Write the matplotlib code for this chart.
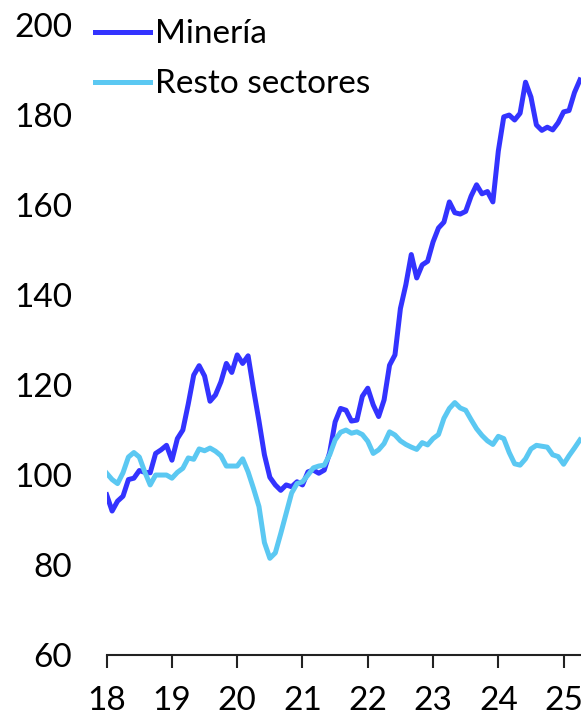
import matplotlib.pyplot as plt

# monthly index values, Jan 2018 .. Apr 2025
mineria = [
    95.6, 92.0, 94.2, 95.3, 99.0, 99.3, 101.0, 100.6, 100.5, 104.8, 105.6, 106.6,
    103.3, 108.1, 110.0, 115.8, 122.2, 124.3, 122.0, 116.4, 117.8, 120.7, 124.8, 122.8,
    126.7, 124.8, 126.5, 119.0, 112.0, 104.5, 99.5, 97.8, 96.6, 97.8, 97.4, 98.5,
    97.8, 100.7, 101.1, 100.4, 101.1, 105.0, 111.8, 114.8, 114.4, 112.0, 112.2, 117.5,
    119.3, 115.6, 113.0, 116.7, 124.4, 126.7, 137.0, 142.3, 149.0, 143.8, 146.7, 147.5,
    151.8, 154.9, 156.2, 160.7, 158.3, 158.0, 158.6, 162.0, 164.5, 162.5, 163.0, 160.7,
    172.0, 179.6, 180.0, 178.9, 180.4, 187.3, 184.0, 177.8, 176.6, 177.3, 176.7, 178.3,
    180.7, 181.0, 185.0, 187.8,
]
resto = [
    100.4, 99.0, 98.1, 100.5, 104.0, 105.0, 104.0, 100.7, 97.8, 100.0, 100.0, 100.0,
    99.3, 100.6, 101.5, 103.8, 103.5, 105.8, 105.4, 106.0, 105.3, 104.3, 102.0, 102.0,
    102.0, 103.6, 100.7, 97.0, 93.0, 85.0, 81.5, 82.7, 87.0, 91.5, 96.0, 98.1,
    98.5, 100.0, 101.6, 102.0, 102.2, 104.5, 107.8, 109.5, 110.0, 109.3, 109.6, 109.0,
    107.5, 104.8, 105.6, 107.0, 109.6, 108.9, 107.6, 106.8, 106.2, 105.7, 107.2, 106.7,
    108.1, 109.0, 112.6, 114.8, 116.1, 114.9, 114.4, 112.3, 110.3, 108.8, 107.6, 106.8,
    108.6, 108.1, 105.0, 102.5, 102.2, 103.6, 105.8, 106.6, 106.4, 106.2, 104.5, 104.1,
    102.4, 104.3, 106.0, 107.8,
]
years = [18 + m / 12 for m in range(len(mineria))]
year_ticks = [18, 19, 20, 21, 22, 23, 24, 25]

plt.rcParams['font.family'] = ['Lato', 'DejaVu Sans']

fig = plt.figure(figsize=(5.81, 7.18), dpi=100)
ax = fig.add_axes([0.1836, 0.0877, 0.8164, 0.8774])

ax.plot(years, mineria, color='#3333ff', lw=3.6, label='Minería', solid_joinstyle='round')
ax.plot(years, resto, color='#5bc8f2', lw=3.6, label='Resto sectores', solid_joinstyle='round')

ax.set_xlim(18, 18 + 87.2 / 12)
ax.set_ylim(60, 200)
ax.set_xticks(year_ticks)
ax.set_yticks(range(60, 201, 20))

for s in ['top', 'right', 'left']:
    ax.spines[s].set_visible(False)
ax.spines['bottom'].set_linewidth(1.5)
ax.spines['bottom'].set_color('#222222')
ax.tick_params(axis='x', length=9.5, width=1.5, color='#222222', pad=13, labelsize=24)
ax.tick_params(axis='y', length=0, pad=25, labelsize=24)

ax.legend(loc='upper left', bbox_to_anchor=(0.1635, 0.973), bbox_transform=fig.transFigure,
          frameon=False, fontsize=24, handlelength=1.65, handletextpad=0.15,
          labelspacing=0.6, borderpad=0, borderaxespad=0)

fig.savefig('out.png', dpi=100)
